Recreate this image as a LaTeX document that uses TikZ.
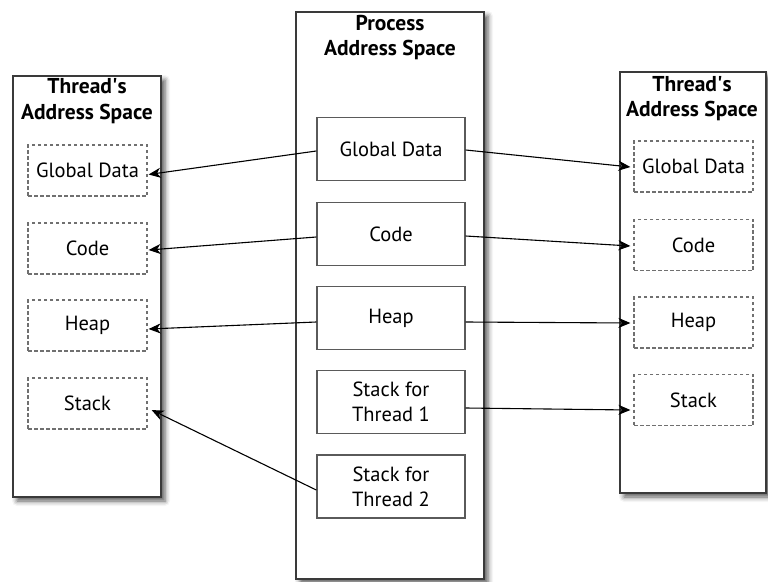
\documentclass[tikz,border=0pt]{standalone}
\usepackage{fontspec}
\setmainfont{PT Sans}
\usetikzlibrary{arrows.meta,shadows.blur}
\definecolor{edge}{HTML}{3A3A3A}
\definecolor{inedge}{HTML}{5A5A5A}
\definecolor{dashc}{HTML}{707070}
\tikzset{
  outerbox/.style={draw=edge, line width=2pt, fill=white,
    blur shadow={shadow xshift=4pt, shadow yshift=-4pt, shadow blur radius=5pt, shadow opacity=65}},
  solidbox/.style={draw=inedge, line width=1.4pt, fill=white, minimum width=148pt, minimum height=63pt, inner sep=0pt, align=center, font=\fontsize{20.5}{25}\selectfont},
  dashbox/.style={draw=dashc, line width=1.2pt, dash pattern=on 3.5pt off 2.5pt, minimum width=119pt, minimum height=51pt, inner sep=0pt, font=\fontsize{20.5}{22}\selectfont},
  title/.style={font=\bfseries\fontsize{21.5}{25}\selectfont, align=center, inner sep=0pt, anchor=base},
  conn/.style={draw=black, line width=1.1pt, -{Stealth[length=12pt,width=10pt,inset=3.5pt]}}
}
\begin{document}
\begin{tikzpicture}[x=1pt,y=-1pt]
\useasboundingbox (0,0) rectangle (768,581);
% outer containers
\node[outerbox, minimum width=148pt, minimum height=421pt, inner sep=0pt] (lbox) at (87,286.5) {};
\node[outerbox, minimum width=188pt, minimum height=567pt, inner sep=0pt] (pbox) at (390,295.5) {};
\node[outerbox, minimum width=146pt, minimum height=421pt, inner sep=0pt] (rbox) at (693,282.5) {};
% titles
\node[title] (lt1) at (87,93) {Thread\textquotesingle s};
\node[title] (lt2) at (87,119) {Address Space};
\node[title] (pt1) at (390,30) {Process};
\node[title] (pt2) at (390,55) {Address Space};
\node[title] (rt1) at (692,91) {Thread\textquotesingle s};
\node[title] (rt2) at (692,116) {Address Space};
% process segments
\node[solidbox] (pg) at (391,149) {Global Data};
\node[solidbox] (pc) at (391,234) {Code};
\node[solidbox] (ph) at (391,318) {Heap};
\node[solidbox] (ps1) at (391,402) {Stack for\\Thread 1};
\node[solidbox] (ps2) at (391,486.5) {Stack for\\Thread 2};
% left thread
\node[dashbox] (lg) at (87.5,170.5) {Global Data};
\node[dashbox] (lc) at (87.5,248.5) {Code};
\node[dashbox] (lh) at (87.5,325.5) {Heap};
\node[dashbox] (ls) at (87.5,403.5) {Stack};
% right thread
\node[dashbox] (rg) at (693.5,166.5) {Global Data};
\node[dashbox] (rc) at (693.5,245) {Code};
\node[dashbox] (rh) at (693.5,322.5) {Heap};
\node[dashbox] (rs) at (693.5,400) {Stack};
% connectors
\draw[conn] ([yshift=-2pt]pg.west) -- ([xshift=1pt,yshift=-4pt]lg.east);
\draw[conn] ([yshift=-3pt]pc.west) -- ([xshift=1pt,yshift=-1.5pt]lc.east);
\draw[conn] ([yshift=-4pt]ph.west) -- ([xshift=1pt,yshift=-3.5pt]lh.east);
\draw[conn] ([yshift=-3.5pt]ps2.west) -- ([xshift=4pt,yshift=-6.5pt]ls.east);
\draw[conn] ([yshift=-1pt]pg.east) -- ([xshift=-3pt,yshift=-0.5pt]rg.west);
\draw[conn] ([yshift=-2pt]pc.east) -- ([xshift=-3pt,yshift=-1pt]rc.west);
\draw[conn] ([yshift=-4pt]ph.east) -- ([xshift=-3pt,yshift=-0.5pt]rh.west);
\draw[conn] ([yshift=-6pt]ps1.east) -- ([xshift=-3pt,yshift=-10pt]rs.west);
\end{tikzpicture}
\end{document}
